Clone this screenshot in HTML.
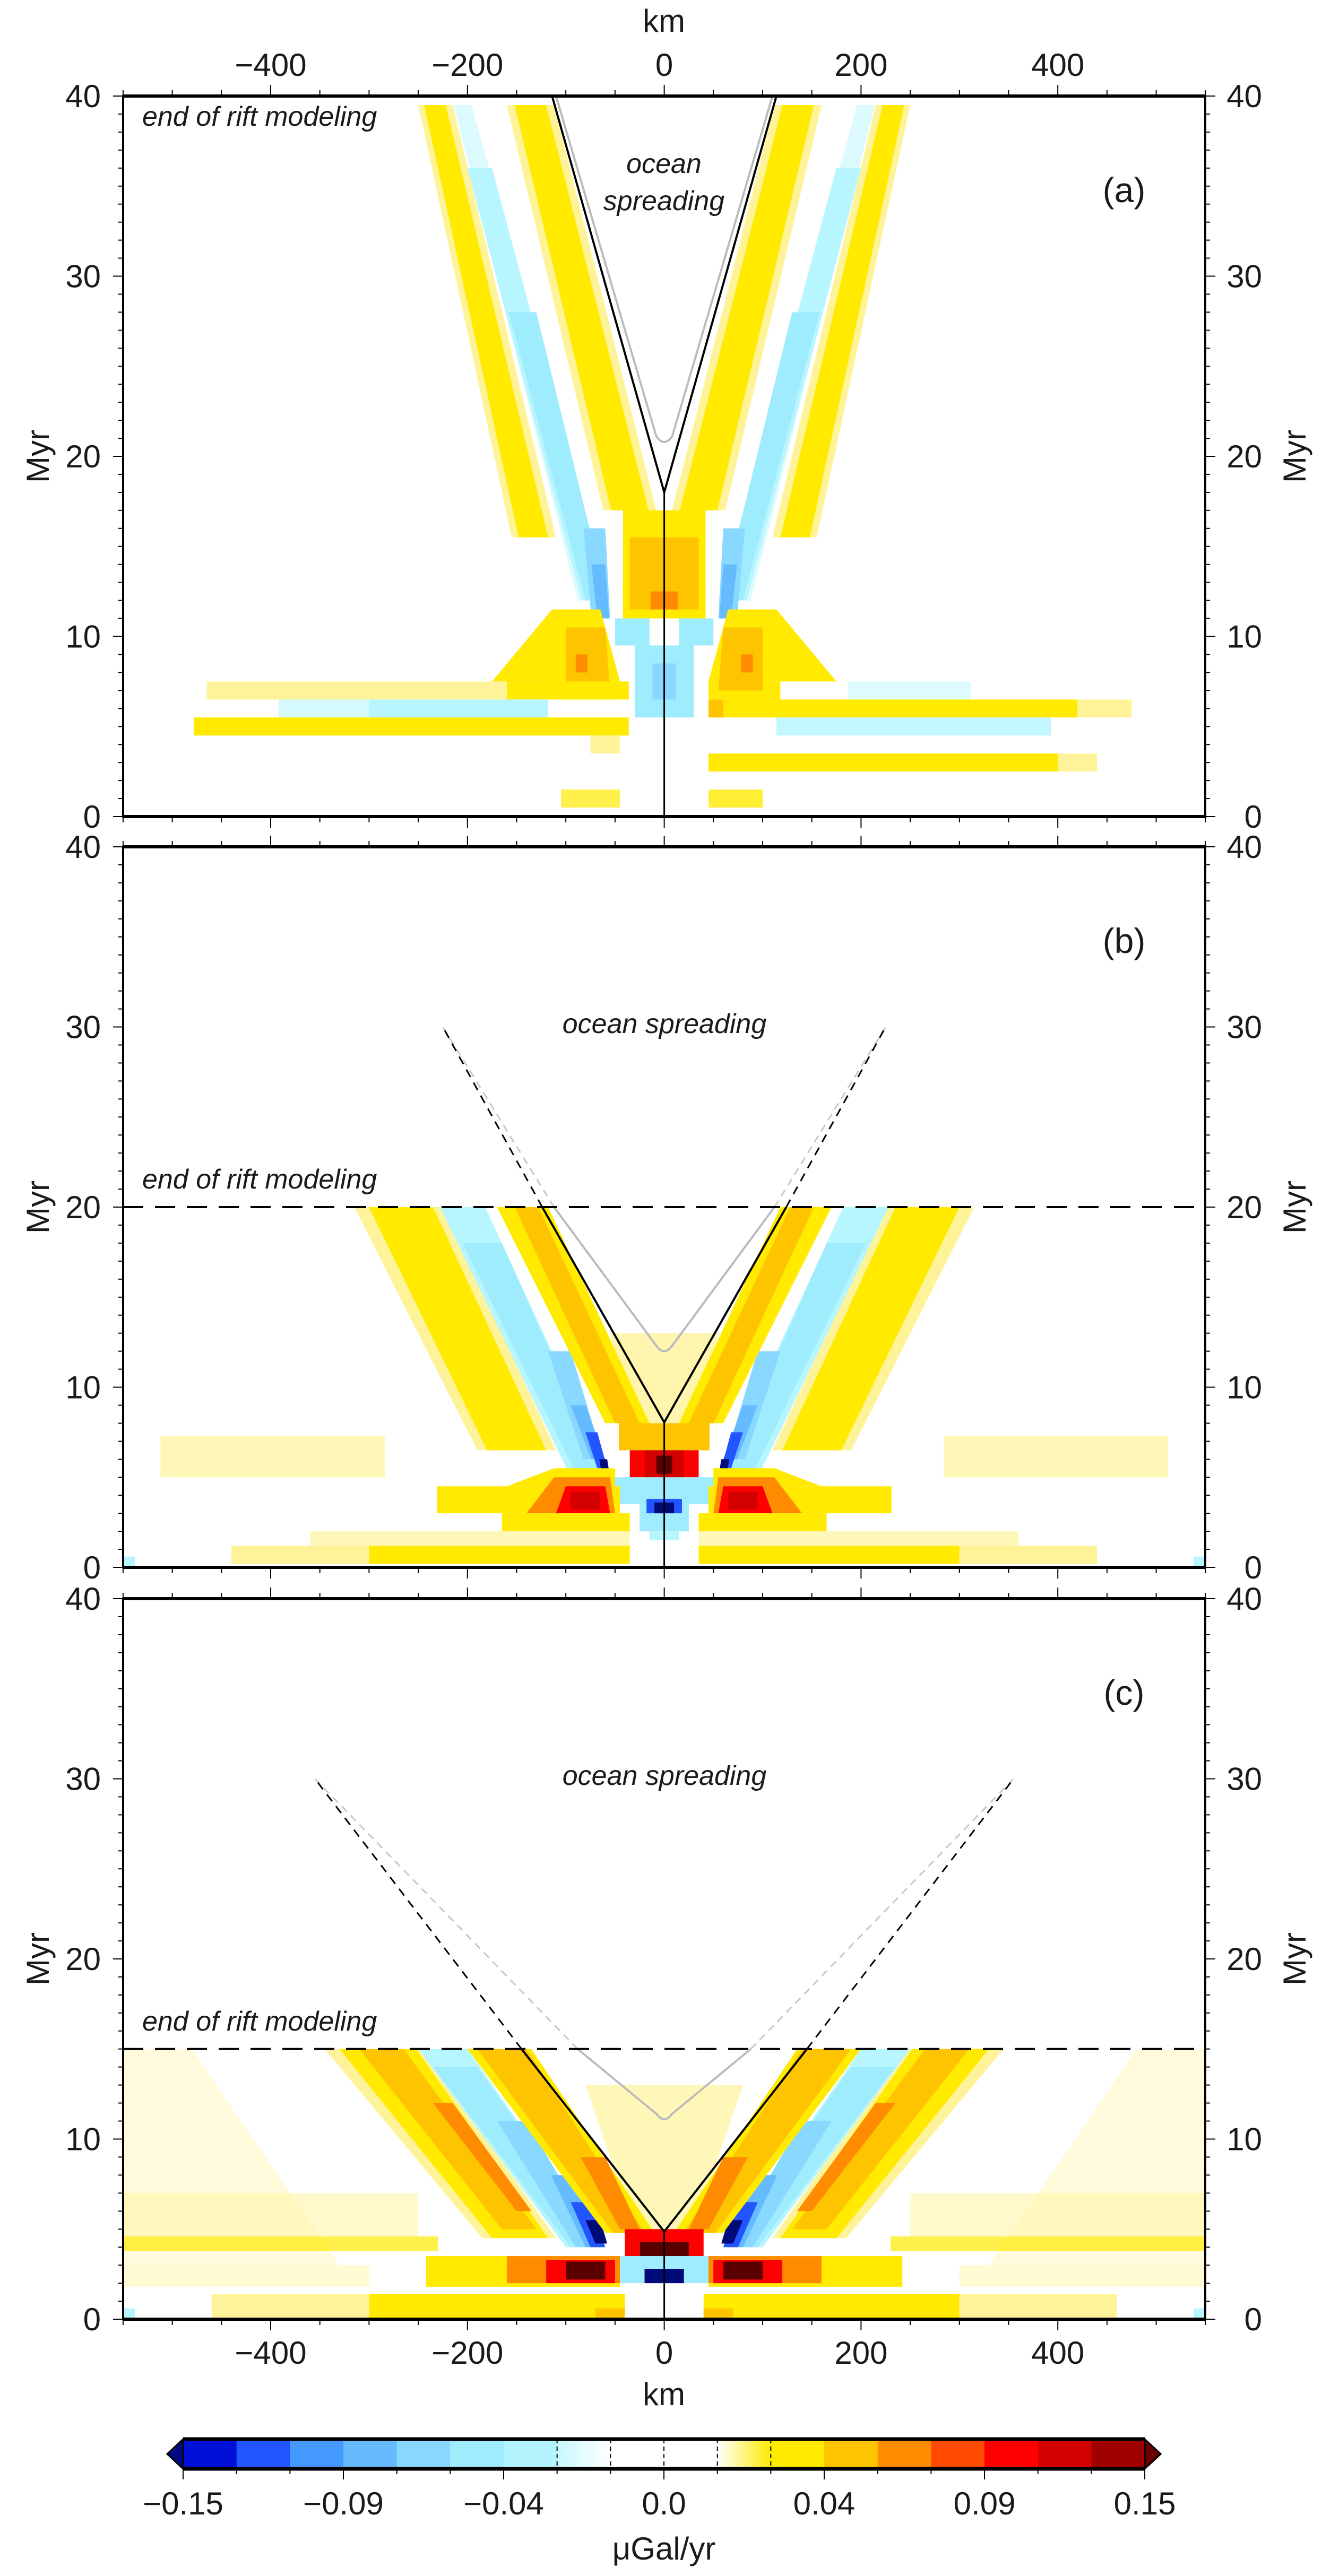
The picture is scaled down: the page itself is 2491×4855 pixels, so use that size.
<!DOCTYPE html>
<html><head><meta charset="utf-8"><title>Gravity rate panels</title>
<style>
html,body{margin:0;padding:0;background:#fff;}
svg{display:block;}
text{font-family:"Liberation Sans",Arial,sans-serif;fill:#1a1a1a;}
</style></head>
<body>
<svg id="fig" xmlns="http://www.w3.org/2000/svg" width="2491" height="4855" viewBox="0 0 2491 4855"></svg>
<script>
// ---- data ----
const levelColors = ['#0010d8','#2255ff','#4499ff','#66bbff','#88d8ff','#a0ecff','#b8f6ff','#ddfaff','#ffffff','#ffffff','#fff39a','#ffea00','#ffc400','#ff8c00','#ff4a00','#ff0000','#d40000','#a00000','#5a0000','#000a78'];
const cbarColors = ['#0010d8','#2255ff','#4499ff','#66bbff','#88d8ff','#a0ecff','#b4f4ff','grad-c','#ffffff','#ffffff','grad-y','#ffea00','#ffc400','#ff8c00','#ff4a00','#ff0000','#d40000','#a00000'];
const cbarLabels = ['\u22120.15','\u22120.09','\u22120.04','0.0','0.04','0.09','0.15'];
const cbarLabelIdx = [0,3,6,9,12,15,18];
const xTicks = [-400,-200,0,200,400];
const yTicks = [0,10,20,30,40];
const panelNames = ['(a)','(b)','(c)'];
const riftEnd = [40,20,15];
const ridgeStart = [18,8.05,4.86];
const ridgeTopX = [114,124,145];
const dashTop = [null,[30,225],[30,355]];
const greyBottom = [20.6,11.8,10.9];
const greyAtEnd = [110,112,88];
// bands: [level, opacity, t0, t1, xin@t0, xout@t0, xin@t1, xout@t1, mirror]
const bandsA = [
 [10,1,15.5,39.5,110,155,215,250,1],[11,1,15.5,39.5,118,148,222,244,1],
 [7,1,12,39.5,55,88,196,214,1],[6,1,12,36,57,84,175,200,1],[5,1,12,28,58,80,130,158,1],[4,1,11,16,55,74,60,82,1],[3,1,11,14,56,68,60,74,1],
 [10,1,17,39.5,8,62,112,160,1],[11,1,17,39.5,16,54,120,152,1],
 [11,1,11,17,0,42,0,42,1],[12,1,11.5,15.5,0,35,0,35,1],[13,1,11.5,12.5,0,14,0,14,1],
 [5,1,5.5,9.5,0,30,0,30,1],[4,1,6.5,8.5,0,12,0,12,1],[5,1,9.5,11,15,50,15,50,1],
 [11,1,7.5,11.5,45,175,65,114,1],[11,1,6.5,7.5,45,118,45,118,1],[12,1,7,10.5,55,100,60,100,1],[13,1,8,9,78,90,78,90,1],
 [11,1,5.5,6.5,45,420,45,420,0],[10,1,5.5,6.5,420,475,420,475,0],[12,1,5.5,6.5,45,60,45,60,0],
 [6,0.85,4.5,5.5,114,393,114,393,0],[6,0.45,6.5,7.5,187,312,187,312,0],
 [11,1,2.5,3.5,45,400,45,400,0],[10,1,2.5,3.5,400,440,400,440,0],[11,0.8,0.5,1.5,45,100,45,100,0],
 [10,1,6.5,7.5,-465,-160,-465,-160,0],[11,1,6.5,7.5,-160,-36,-160,-36,0],
 [6,0.6,5.5,6.5,-392,-300,-392,-300,0],[6,1,5.5,6.5,-300,-118,-300,-118,0],
 [11,1,4.5,5.5,-478,-36,-478,-36,0],[10,1,3.5,4.5,-75,-45,-75,-45,0],[11,0.7,0.5,1.5,-105,-45,-105,-45,0]
];
const bandsB = [
 [10,1,6.5,20,110,190,225,315,1],[11,1,6.5,20,120,180,235,300,1],
 [6,1,5,20,55,95,182,228,1],[5,1,5,18,60,88,165,205,1],[4,1,6,12,62,82,95,118,1],[3,1,6,9,60,74,80,95,1],[1,1,5.5,7.5,58,68,68,80,1],[19,1,5,6,55,63,58,66,1],
 [10,0.8,8,13,0,30,0,55,1],[11,1,8,20,15,60,118,170,1],[12,1,8,20,25,50,128,152,1],
 [12,1,6.5,8,0,46,0,46,1],[15,1,5,6.5,0,35,0,35,1],[16,1,5,6.5,0,20,0,20,1],[18,1,5.2,6.2,0,8,0,8,1],
 [5,1,3.5,5,0,55,0,55,1],[5,1,2,3.5,0,25,0,25,1],[1,1,3,3.8,0,18,0,18,1],[19,1,3,3.6,0,10,0,10,1],[6,1,1.5,2,0,15,0,15,1],
 [11,1,3,4.5,45,231,45,231,1],[11,1,4.5,5.5,50,160,50,112,1],[13,1,3,5,50,140,55,112,1],[15,1,3,4.5,55,110,60,100,1],[16,1,3.2,4.2,65,95,65,95,1],
 [11,1,2,3,35,165,35,165,1],[11,1,0.2,1.2,35,300,35,300,1],[10,1,0.2,1.2,300,440,300,440,1],[10,0.7,1.2,2,35,360,35,360,1],
 [10,0.7,5,7.3,284,512,284,512,1],[6,1,0,0.6,538,550,538,550,1]
];
const bandsC = [
 [10,1,4.5,15,110,185,245,345,1],[11,1,4.5,15,118,175,252,330,1],[12,1,5,15,130,165,265,310,1],[13,1,6,12,135,150,215,235,1],
 [6,1,4,15,60,100,200,250,1],[5,1,4,14,62,95,190,235,1],[4,1,4,11,65,90,140,170,1],[3,1,4,8,62,80,95,115,1],[1,1,4,6.5,60,75,75,95,1],[19,1,4.2,5.5,58,70,65,80,1],
 [10,0.7,5,13,0,30,0,80,1],[11,1,4.8,15,10,60,135,200,1],[12,1,4.8,15,20,52,140,190,1],[13,1,5,9,25,45,60,85,1],
 [15,1,4.3,5,0,40,0,40,1],[18,1,3.5,4.3,0,25,0,25,1],[15,1,3.5,4.3,25,40,25,40,1],[5,1,2,3.5,0,45,0,45,1],[19,1,2,2.8,0,20,0,20,1],
 [11,1,1.8,3.5,45,242,45,242,1],[13,1,2,3.5,45,160,45,160,1],[15,1,2,3.3,50,120,50,120,1],[18,1,2.2,3.2,60,100,60,100,1],
 [11,1,0,1.4,40,300,40,300,1],[10,1,0,1.4,300,460,300,460,1],[12,1,0,0.6,40,70,40,70,1],
 [10,0.35,3,15,330,550,480,550,1],[11,0.7,3.8,4.6,230,550,230,550,1],[10,0.5,4.6,7,250,550,250,550,1],[10,0.45,1.8,3,300,550,300,550,1],
 [6,1,0,0.6,538,550,538,550,1]
];
const panelBands = [bandsA,bandsB,bandsC];

// ---- layout ----
const NS='http://www.w3.org/2000/svg';
const svg=document.getElementById('fig');
const panelTop=[181,1596,3013], PH=1358, XL=232, XR=2271;
const X=km=>1251.6+1.854*km;
const Y=(p,t)=>panelTop[p]+(40-t)*PH/40;
function mk(tag,attrs,parent){const e=document.createElementNS(NS,tag);for(const k in attrs)e.setAttribute(k,attrs[k]);(parent||svg).appendChild(e);return e;}
const defs=mk('defs',{});
const gc=mk('linearGradient',{id:'gc'},defs);mk('stop',{offset:'0','stop-color':'#c8f8ff'},gc);mk('stop',{offset:'1','stop-color':'#ffffff'},gc);
const gy=mk('linearGradient',{id:'gy'},defs);mk('stop',{offset:'0','stop-color':'#ffffff'},gy);mk('stop',{offset:'1','stop-color':'#ffea00'},gy);

for(let p=0;p<3;p++){
 const g=mk('g',{});
 
 
 const cg=mk('g',{},g);
 
 
 panelBands[p].forEach(b=>{
  const sides=b[8]?[1,-1]:[1];
  sides.forEach(s=>{
   const pts=[[X(s*b[4]),Y(p,b[2])],[X(s*b[5]),Y(p,b[2])],[X(s*b[7]),Y(p,b[3])],[X(s*b[6]),Y(p,b[3])]];
   const poly=mk('polygon',{points:pts.map(q=>q.join(',')).join(' '),fill:levelColors[b[0]],'fill-opacity':b[1]},cg);
   
   
  });
 });
 const gb=greyBottom[p], ge=greyAtEnd[p], re=riftEnd[p];
 const gpath='M'+X(-ge)+','+Y(p,re)+' L'+X(-8)+','+Y(p,gb+0.5)+' Q'+X(0)+','+Y(p,gb-0.1)+' '+X(8)+','+Y(p,gb+0.5)+' L'+X(ge)+','+Y(p,re);
 const gl=mk('path',{d:gpath,fill:'none',stroke:'#bbbbbb','stroke-width':4},g);
 
 
 if(dashTop[p]){
  const dt=dashTop[p];
  [-1,1].forEach(s=>{
   const gd=mk('line',{x1:X(s*ge),y1:Y(p,re),x2:X(s*dt[1]),y2:Y(p,dt[0]),stroke:'#c8c8c8','stroke-width':3,'stroke-dasharray':'14,10'},g);
   
   
   const bd=mk('line',{x1:X(s*ridgeTopX[p]),y1:Y(p,re),x2:X(s*dt[1]),y2:Y(p,dt[0]),stroke:'#000','stroke-width':3,'stroke-dasharray':'16,12'},g);
   
   
  });
  const hl=mk('line',{x1:XL,y1:Y(p,re),x2:XR,y2:Y(p,re),stroke:'#000','stroke-width':4,'stroke-dasharray':'38,22'},g);
  
  
 }
 const rl=mk('polyline',{points:[X(-ridgeTopX[p]),Y(p,re),X(0),Y(p,ridgeStart[p]),X(ridgeTopX[p]),Y(p,re)].join(' ').replace(/(\S+) (\S+)/g,'$1,$2'),fill:'none',stroke:'#000','stroke-width':4},g);
 
 
 const vl=mk('line',{x1:X(0),y1:Y(p,0),x2:X(0),y2:Y(p,ridgeStart[p]),stroke:'#000','stroke-width':3},g);
 
 
 const fr=mk('rect',{x:XL,y:panelTop[p],width:XR-XL,height:PH,fill:'none',stroke:'#000','stroke-width':4},g);
 
 
 mk('line',{x1:XL,y1:panelTop[p],x2:XR,y2:panelTop[p],stroke:'#000','stroke-width':6},g);
 mk('line',{x1:XL,y1:panelTop[p]+PH,x2:XR,y2:panelTop[p]+PH,stroke:'#000','stroke-width':6},g);
 for(let k=-550;k<=550;k+=50){
  const major=(k%200===0);const len=major?21:11;const xx=X(k);
  mk('line',{x1:xx,y1:panelTop[p],x2:xx,y2:panelTop[p]-len,stroke:'#000','stroke-width':2},g);
  mk('line',{x1:xx,y1:panelTop[p]+PH,x2:xx,y2:panelTop[p]+PH+len,stroke:'#000','stroke-width':2},g);
 }
 for(let t=0;t<=40;t++){
  const len=(t%10===0)?19:9;const yy=Y(p,t);
  mk('line',{x1:XL,y1:yy,x2:XL-len,y2:yy,stroke:'#000','stroke-width':2},g);
  mk('line',{x1:XR,y1:yy,x2:XR+len,y2:yy,stroke:'#000','stroke-width':2},g);
 }
 yTicks.forEach(t=>{
  const a=mk('text',{x:190,y:Y(p,t)+21,'font-size':60,'text-anchor':'end'},g);a.textContent=t;
  
  
  const b=mk('text',{x:2378,y:Y(p,t)+21,'font-size':60,'text-anchor':'end'},g);b.textContent=t;
  
  
 });
 const ymid=panelTop[p]+PH/2;
 const yl=mk('text',{x:0,y:0,'font-size':60,'text-anchor':'middle',transform:'translate(92,'+ymid+') rotate(-90)'},g);yl.textContent='Myr';
 
 
 const yr=mk('text',{x:0,y:0,'font-size':60,'text-anchor':'middle',transform:'translate(2460,'+ymid+') rotate(-90)'},g);yr.textContent='Myr';
 
 
 const pl=mk('text',{x:2118,y:panelTop[p]+200,'font-size':66,'text-anchor':'middle'},g);pl.textContent=panelNames[p];
 
 
 const er=mk('text',{x:268,y:p===0?237:Y(p,re)-35,'font-size':52,'font-style':'italic'},g);er.textContent='end of rift modeling';
 
 
 if(p===0){
  const o1=mk('text',{x:1251,y:326,'font-size':52,'font-style':'italic','text-anchor':'middle'},g);o1.textContent='ocean';
  
  
  const o2=mk('text',{x:1251,y:396,'font-size':52,'font-style':'italic','text-anchor':'middle'},g);o2.textContent='spreading';
  
  
 } else {
  const o=mk('text',{x:1252,y:panelTop[p]+351,'font-size':52,'font-style':'italic','text-anchor':'middle'},g);o.textContent='ocean spreading';
  
  
 }
}
xTicks.forEach(k=>{
 const s=(k<0?'\u2212':'')+Math.abs(k);
 const a=mk('text',{x:X(k),y:143,'font-size':60,'text-anchor':'middle'});a.textContent=s;
 
 
 const b=mk('text',{x:X(k),y:4455,'font-size':60,'text-anchor':'middle'});b.textContent=s;
 
 
});
const kt=mk('text',{x:1251,y:60,'font-size':60,'text-anchor':'middle'});kt.textContent='km';


const kb=mk('text',{x:1251,y:4533,'font-size':60,'text-anchor':'middle'});kb.textContent='km';



const CL=345, CW=100.67, CT=4597, CB=4653;
const cb=mk('g',{});


cbarColors.forEach((c,i)=>{
 const f=c==='grad-c'?'url(#gc)':c==='grad-y'?'url(#gy)':c;
 const r=mk('rect',{x:CL+i*CW,y:CT,width:CW+0.6,height:CB-CT,fill:f},cb);
 
 
});
[7,8,9,10,11].forEach(i=>mk('line',{x1:CL+i*CW,y1:CT,x2:CL+i*CW,y2:CB,stroke:'#000','stroke-width':2,'stroke-dasharray':'8,6'},cb));
const CR=CL+18*CW, CM=(CT+CB)/2;
const la=mk('polygon',{points:[CL,CT,CL-30,CM,CL,CB].join(' ').replace(/(\S+) (\S+)/g,'$1,$2'),fill:'#000a80',stroke:'#000','stroke-width':3},cb);


const ra=mk('polygon',{points:[CR,CT,CR+30,CM,CR,CB].join(' ').replace(/(\S+) (\S+)/g,'$1,$2'),fill:'#6a0000',stroke:'#000','stroke-width':3},cb);


mk('line',{x1:CL,y1:CT,x2:CR,y2:CT,stroke:'#000','stroke-width':7},cb);
mk('line',{x1:CL,y1:CB,x2:CR,y2:CB,stroke:'#000','stroke-width':7},cb);
for(let i=0;i<=18;i++){
 const major=cbarLabelIdx.indexOf(i)>=0;
 mk('line',{x1:CL+i*CW,y1:CB,x2:CL+i*CW,y2:CB+(major?20:10),stroke:'#000','stroke-width':2},cb);
}
cbarLabels.forEach((s,j)=>{
 const t=mk('text',{x:CL+cbarLabelIdx[j]*CW,y:4739,'font-size':60,'text-anchor':'middle'},cb);t.textContent=s;
 
 
});
const ut=mk('text',{x:1251,y:4824,'font-size':60,'text-anchor':'middle'},cb);ut.textContent='\u03bcGal/yr';


</script>
</body></html>
